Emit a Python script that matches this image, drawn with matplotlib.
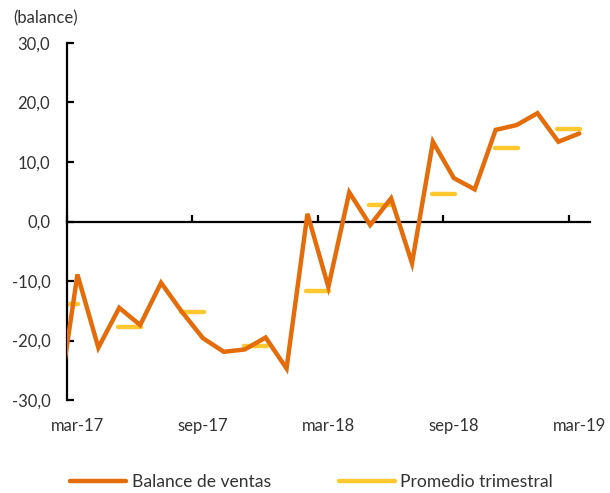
import numpy as np
from matplotlib import pyplot as plt
from matplotlib import transforms

plt.rcParams['font.family'] = ['Lato', 'DejaVu Sans']

# mensual feb-17 .. mar-19 (feb-17 queda fuera del eje, solo se ve el tramo hacia mar-17)
meses = ["feb-17", "mar-17", "abr-17", "may-17", "jun-17", "jul-17", "ago-17", "sep-17",
         "oct-17", "nov-17", "dic-17", "ene-18", "feb-18", "mar-18", "abr-18", "may-18",
         "jun-18", "jul-18", "ago-18", "sep-18", "oct-18", "nov-18", "dic-18", "ene-19",
         "feb-19", "mar-19"]
balance = [-32.7, -8.9, -21.2, -14.5, -17.4, -10.3, -15.2, -19.6, -21.9, -21.5, -19.5,
           -24.7, 1.3, -11.0, 4.9, -0.6, 3.9, -7.0, 13.4, 7.3, 5.4, 15.4, 16.2, 18.2,
           13.4, 14.8]
# promedio trimestral, centrado en el limite entre trimestres
trim_pos = [-0.5, 2.5, 5.5, 8.5, 11.5, 14.5, 17.5, 20.5, 23.5]
trim_val = [-13.8, -17.7, -15.2, -20.9, -11.7, 2.8, 4.6, 12.4, 15.5]
etiquetas = ["mar-17", "sep-17", "mar-18", "sep-18", "mar-19"]
etiq_pos = [0, 6, 12, 18, 24]

naranja = "#E46C0A"
amarillo = "#FFC82E"
gris = "#333333"

fig = plt.figure(figsize=(6.1, 4.93), dpi=100)
ax = fig.add_axes([0.1098, 0.1886, 0.857, 0.7242])

x = np.arange(len(balance)) - 1
ax.plot(x, balance, color=naranja, lw=3.2, solid_capstyle="round",
        solid_joinstyle="miter", label="Balance de ventas", zorder=3)
ax.hlines(trim_val, np.array(trim_pos) - 0.55, np.array(trim_pos) + 0.55,
          color=amarillo, lw=3.2, capstyle="round", zorder=2)
ax.plot([], [], color=amarillo, lw=3.2, solid_capstyle="round", label="Promedio trimestral")

ax.set_xlim(-0.5, 24.5)
ax.set_ylim(-30, 30)
ax.set_yticks([-30, -20, -10, 0, 10, 20, 30])
ax.set_yticklabels([f"{v:.1f}".replace(".", ",") for v in ax.get_yticks()])
ax.set_xticks(np.arange(-0.5, 24, 6))
ax.set_xticklabels([])

for s in ["top", "right"]:
    ax.spines[s].set_visible(False)
ax.spines["bottom"].set_position(("data", 0))
ax.spines["bottom"].set_zorder(1)
for s in ["left", "bottom"]:
    ax.spines[s].set_linewidth(1.6)
ax.tick_params(axis="y", direction="in", length=5, width=1.6, pad=12,
               labelsize=12, labelcolor=gris)
ax.tick_params(axis="x", direction="in", length=5, width=1.6)

trans = transforms.blended_transform_factory(ax.transData, ax.transAxes)
for p, t in zip(etiq_pos, etiquetas):
    ax.text(p, -0.073, t, transform=trans, ha="center", va="center",
            fontsize=12, color=gris)

fig.text(0.022, 0.963, "(balance)", fontsize=12, color=gris, ha="left", va="center")

fig.legend(loc="center", bbox_to_anchor=(0.511, 0.022), ncol=2, frameon=False,
           fontsize=12.6, handlelength=3.2, handletextpad=0.3, columnspacing=3.9,
           labelcolor=gris)

fig.savefig("out.png", dpi=100)
